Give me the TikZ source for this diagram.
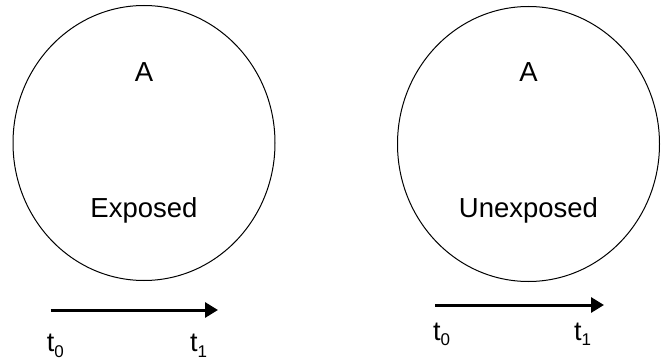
\documentclass[tikz,border=0pt]{standalone}
\usepackage{fontspec}
\setmainfont{Liberation Sans}
\usetikzlibrary{positioning,shapes.geometric,arrows.meta}

\newcommand\tsub[1]{t\raisebox{-6pt}{\fontsize{17}{17}\selectfont #1}}

\begin{document}
\begin{tikzpicture}[x=1pt,y=1pt,
    grp/.style={draw,ellipse,line width=1pt,minimum width=262pt,minimum height=275pt,inner sep=0pt},
    lbl/.style={font=\fontsize{27.5}{32}\selectfont,inner sep=0pt,anchor=base},
    tm/.style={font=\fontsize{27}{32}\selectfont,inner sep=0pt},
    timeline/.style={line width=3pt,-{Triangle[length=13pt,width=15pt]}}]
  \useasboundingbox (0,0) rectangle (662,362);
  % the two groups
  \node[grp] (E) at (144,219) {};
  \node[grp] (U) at (528.5,218) {};
  \node[lbl] (EA) at ([yshift=61pt]E.center) {A};
  \node[lbl] (Etxt) at ([yshift=-75pt]E.center) {Exposed};
  \node[lbl] (UA) at ([yshift=62pt]U.center) {A};
  \node[lbl] (Utxt) at ([yshift=-74pt]U.center) {Unexposed};
  % time arrows
  \coordinate (Es) at (50.7,52);
  \coordinate (Ee) at (218,52);
  \coordinate (Us) at (435,57);
  \coordinate (Ue) at (604,57);
  \draw[timeline] (Es) -- (Ee);
  \draw[timeline] (Us) -- (Ue);
  \node[tm] (Et0) [below right=41pt and -4pt of Es, anchor=base west] {\tsub{0}};
  \node[tm] (Et1) [below right=41pt and -28pt of Ee, anchor=base west] {\tsub{1}};
  \node[tm] (Ut0) [below right=35pt and -2pt of Us, anchor=base west] {\tsub{0}};
  \node[tm] (Ut1) [below right=35pt and -30pt of Ue, anchor=base west] {\tsub{1}};
\end{tikzpicture}
\end{document}
